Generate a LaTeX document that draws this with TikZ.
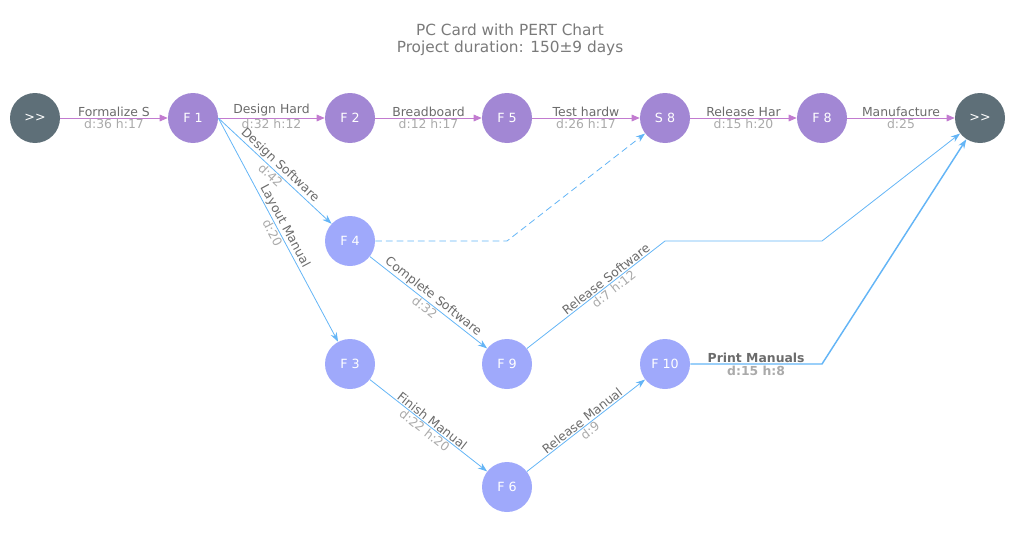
\documentclass[tikz,border=0pt]{standalone}
\usepackage{fontspec}
\setmainfont{DejaVu Sans}
\usetikzlibrary{arrows.meta}
\definecolor{pnode}{HTML}{A287D4}
\definecolor{bnode}{HTML}{9FA9FB}
\definecolor{dnode}{HTML}{5E6F78}
\definecolor{pline}{HTML}{C27BD0}
\definecolor{bline}{HTML}{64B5F6}
\definecolor{lab}{HTML}{6B6B6B}
\definecolor{sub}{HTML}{AAAAAA}
\begin{document}
\begin{tikzpicture}[x=0.75pt,y=-0.75pt,
  nd/.style={circle,minimum size=37.5pt,inner sep=0pt,text=white,font=\fontsize{9.5}{10}\selectfont},
  pn/.style={nd,fill=pnode}, bn/.style={nd,fill=bnode}, dn/.style={nd,fill=dnode},
  pe/.style={draw=pline,line width=0.6pt,-{Triangle[length=6pt,width=5pt]}},
  be/.style={draw=bline,line width=0.6pt,-{Stealth[length=7pt,width=5pt]}},
  t/.style={font=\fontsize{9.3}{10}\selectfont,text=lab,inner sep=0.8pt},
  s/.style={font=\fontsize{9.3}{10}\selectfont,text=sub,inner sep=0.8pt}]
\useasboundingbox (0,0) rectangle (1032,539);
\node[font=\fontsize{11.5}{12}\selectfont,text=lab!90] (title) at (510,30) {PC Card with PERT Chart};
\node[font=\fontsize{11.5}{12}\selectfont,text=lab!90] (dur) at (510,48) {Project duration: 150±9 days};
\node[dn] (st) at (35,118) {{>}{>}};
\node[pn] (f1) at (193,118) {F 1};
\node[pn] (f2) at (350,118) {F 2};
\node[pn] (f5) at (507,118) {F 5};
\node[pn] (s8) at (665,118) {S 8};
\node[pn] (f8) at (822,118) {F 8};
\node[dn] (en) at (980,118) {{>}{>}};
\node[bn] (f4) at (350,241) {F 4};
\node[bn] (f3) at (350,364) {F 3};
\node[bn] (f9) at (507,364) {F 9};
\node[bn] (f10) at (665,364) {F 10};
\node[bn] (f6) at (507,487) {F 6};
\coordinate (c1) at (507,241);
\coordinate (c2) at (665,241);
\coordinate (c3) at (822,241);
\coordinate (c4) at (822,364);
% purple chain
\draw[pe] (st) -- node[t,above]{Formalize S} node[s,below]{d:36 h:17} (f1);
\draw[pe] (f1) -- node[t,above]{Design Hard} node[s,below]{d:32 h:12} (f2);
\draw[pe] (f2) -- node[t,above]{Breadboard} node[s,below]{d:12 h:17} (f5);
\draw[pe] (f5) -- node[t,above]{Test hardw} node[s,below]{d:26 h:17} (s8);
\draw[pe] (s8) -- node[t,above]{Release Har} node[s,below]{d:15 h:20} (f8);
\draw[pe] (f8) -- node[t,above]{Manufacture} node[s,below]{d:25} (en);
% blue
\draw[be] (f1.east) -- node[t,above,sloped]{Design Software} node[s,below,sloped]{d:42} (f4);
\draw[be] (f1.east) -- node[t,above,sloped]{Layout Manual} node[s,below,sloped]{d:20} (f3);
\draw[be] (f4) -- node[t,above,sloped]{Complete Software} node[s,below,sloped]{d:32} (f9);
\draw[be] (f3) -- node[t,above,sloped]{Finish Manual} node[s,below,sloped]{d:22 h:20} (f6);
\draw[be] (f6) -- node[t,above,sloped]{Release Manual} node[s,below,sloped]{d:9} (f10);
\draw[be,dashed,dash pattern=on 5pt off 3pt] (f4) -- (c1) -- (s8);
\draw[be] (f9) -- node[t,above,sloped,pos=0.6]{Release Software} node[s,below,sloped,pos=0.6]{d:7 h:12} (c2) -- (c3) -- (en);
\draw[be,line width=1.1pt] (f10) -- node[t,above,font=\bfseries\fontsize{9.3}{10}\selectfont]{Print Manuals} node[s,below,font=\bfseries\fontsize{9.3}{10}\selectfont]{d:15 h:8} (c4) -- (en);
\end{tikzpicture}
\end{document}
